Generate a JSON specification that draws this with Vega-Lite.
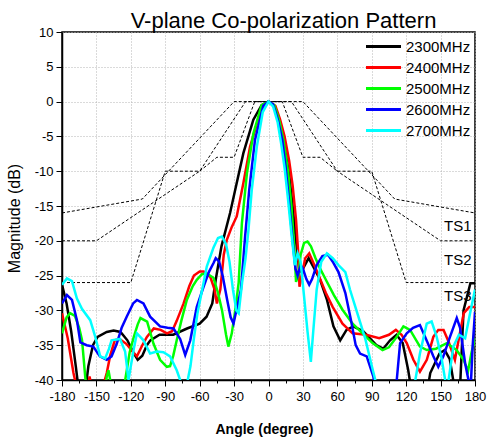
{
"$schema": "https://vega.github.io/schema/vega-lite/v6.json",
"width": 413, "height": 348,
"autosize": {"type": "none"},
"padding": {"left": 62, "top": 32, "right": 13, "bottom": 62},
"background": "white",
"title": {"text": "V-plane Co-polarization Pattern", "fontSize": 22, "font": "Liberation Sans", "fontWeight": "normal", "color": "black", "anchor": "middle", "dx": 15, "dy": 28, "offset": 4, "baseline": "alphabetic"},
"config": {
  "view": {"stroke": "black", "strokeWidth": 1.5},
  "axis": {"labelFont": "Liberation Sans", "labelFontSize": 13, "labelColor": "black", "titleFont": "Liberation Sans", "titleColor": "black", "domainColor": "black", "domainWidth": 1.5, "tickColor": "black", "tickWidth": 1, "gridColor": "#b4b4b4", "gridDash": [1, 2], "gridWidth": 1, "labelOverlap": false, "labelSeparation": 0}
},
"datasets": {
"curves": [
{"f":"2300MHz","a":-180,"m":-26.3},{"f":"2300MHz","a":-176,"m":-29},{"f":"2300MHz","a":-172,"m":-33},{"f":"2300MHz","a":-168,"m":-38},{"f":"2300MHz","a":-165,"m":-42},{"f":"2300MHz","a":-160,"m":-42},{"f":"2300MHz","a":-157,"m":-38},{"f":"2300MHz","a":-153,"m":-35},{"f":"2300MHz","a":-149,"m":-33.8},{"f":"2300MHz","a":-141,"m":-33.1},{"f":"2300MHz","a":-135,"m":-32.9},{"f":"2300MHz","a":-129,"m":-33.1},{"f":"2300MHz","a":-123,"m":-34.3},{"f":"2300MHz","a":-118,"m":-36},{"f":"2300MHz","a":-114,"m":-37.1},{"f":"2300MHz","a":-110,"m":-36.5},{"f":"2300MHz","a":-106,"m":-35},{"f":"2300MHz","a":-103,"m":-34.3},{"f":"2300MHz","a":-95,"m":-33.5},{"f":"2300MHz","a":-83,"m":-33.5},{"f":"2300MHz","a":-71,"m":-32.6},{"f":"2300MHz","a":-60,"m":-31.9},{"f":"2300MHz","a":-54,"m":-30.9},{"f":"2300MHz","a":-49,"m":-29},{"f":"2300MHz","a":-46,"m":-25.6},{"f":"2300MHz","a":-41,"m":-20.8},{"f":"2300MHz","a":-33.5,"m":-16},{"f":"2300MHz","a":-27.7,"m":-11.7},{"f":"2300MHz","a":-21.9,"m":-7.4},{"f":"2300MHz","a":-13.2,"m":-2.6},{"f":"2300MHz","a":-6,"m":-0.5},{"f":"2300MHz","a":0,"m":0},{"f":"2300MHz","a":6,"m":-0.8},{"f":"2300MHz","a":10,"m":-3.5},{"f":"2300MHz","a":14,"m":-6.5},{"f":"2300MHz","a":18,"m":-10.5},{"f":"2300MHz","a":21,"m":-15},{"f":"2300MHz","a":24,"m":-20},{"f":"2300MHz","a":27,"m":-24.5},{"f":"2300MHz","a":30,"m":-24},{"f":"2300MHz","a":35,"m":-22.5},{"f":"2300MHz","a":39,"m":-23.7},{"f":"2300MHz","a":45,"m":-25.6},{"f":"2300MHz","a":51,"m":-28.5},{"f":"2300MHz","a":56.6,"m":-32.3},{"f":"2300MHz","a":62.5,"m":-34.3},{"f":"2300MHz","a":68,"m":-32.8},{"f":"2300MHz","a":74,"m":-32.3},{"f":"2300MHz","a":82.6,"m":-33},{"f":"2300MHz","a":94,"m":-35},{"f":"2300MHz","a":100,"m":-35.5},{"f":"2300MHz","a":106,"m":-34.3},{"f":"2300MHz","a":111.6,"m":-33.5},{"f":"2300MHz","a":117,"m":-34.7},{"f":"2300MHz","a":121.8,"m":-38.6},{"f":"2300MHz","a":125,"m":-42},{"f":"2300MHz","a":138,"m":-42},{"f":"2300MHz","a":141,"m":-39},{"f":"2300MHz","a":149,"m":-36.2},{"f":"2300MHz","a":153.6,"m":-35.7},{"f":"2300MHz","a":158,"m":-37},{"f":"2300MHz","a":162,"m":-41},{"f":"2300MHz","a":167,"m":-41},{"f":"2300MHz","a":170,"m":-30},{"f":"2300MHz","a":176,"m":-26.1},{"f":"2300MHz","a":180,"m":-26.1},
{"f":"2400MHz","a":-180,"m":-30.4},{"f":"2400MHz","a":-175,"m":-34},{"f":"2400MHz","a":-170,"m":-39},{"f":"2400MHz","a":-166,"m":-42},{"f":"2400MHz","a":-158,"m":-42},{"f":"2400MHz","a":-156,"m":-39.5},{"f":"2400MHz","a":-154,"m":-41},{"f":"2400MHz","a":-146,"m":-42},{"f":"2400MHz","a":-141,"m":-39},{"f":"2400MHz","a":-138,"m":-36.5},{"f":"2400MHz","a":-134,"m":-34.3},{"f":"2400MHz","a":-130,"m":-34.1},{"f":"2400MHz","a":-124,"m":-34.8},{"f":"2400MHz","a":-119,"m":-35.8},{"f":"2400MHz","a":-114.7,"m":-36.6},{"f":"2400MHz","a":-110,"m":-35},{"f":"2400MHz","a":-106,"m":-33.8},{"f":"2400MHz","a":-100,"m":-32.6},{"f":"2400MHz","a":-94,"m":-32.8},{"f":"2400MHz","a":-88.5,"m":-33.3},{"f":"2400MHz","a":-84,"m":-33},{"f":"2400MHz","a":-80,"m":-31.5},{"f":"2400MHz","a":-74,"m":-29},{"f":"2400MHz","a":-69,"m":-26.5},{"f":"2400MHz","a":-65,"m":-25},{"f":"2400MHz","a":-60,"m":-24.4},{"f":"2400MHz","a":-56.5,"m":-24.4},{"f":"2400MHz","a":-50.7,"m":-25.2},{"f":"2400MHz","a":-47,"m":-27},{"f":"2400MHz","a":-45,"m":-29},{"f":"2400MHz","a":-42,"m":-27},{"f":"2400MHz","a":-39,"m":-22},{"f":"2400MHz","a":-36.4,"m":-19.9},{"f":"2400MHz","a":-32,"m":-18},{"f":"2400MHz","a":-27.7,"m":-16.5},{"f":"2400MHz","a":-21.9,"m":-11.7},{"f":"2400MHz","a":-16.1,"m":-6.5},{"f":"2400MHz","a":-7.4,"m":-1.7},{"f":"2400MHz","a":0,"m":0},{"f":"2400MHz","a":6,"m":-0.6},{"f":"2400MHz","a":10,"m":-2.5},{"f":"2400MHz","a":14,"m":-5},{"f":"2400MHz","a":18,"m":-8.5},{"f":"2400MHz","a":21,"m":-12},{"f":"2400MHz","a":24,"m":-17},{"f":"2400MHz","a":26,"m":-22},{"f":"2400MHz","a":27,"m":-26.6},{"f":"2400MHz","a":29,"m":-25},{"f":"2400MHz","a":32,"m":-22.5},{"f":"2400MHz","a":35.5,"m":-21.8},{"f":"2400MHz","a":40,"m":-23.5},{"f":"2400MHz","a":45,"m":-25.5},{"f":"2400MHz","a":50,"m":-27.5},{"f":"2400MHz","a":55.9,"m":-29.5},{"f":"2400MHz","a":64.5,"m":-31.9},{"f":"2400MHz","a":73.3,"m":-33.3},{"f":"2400MHz","a":85,"m":-33.5},{"f":"2400MHz","a":96.5,"m":-34},{"f":"2400MHz","a":105,"m":-33.5},{"f":"2400MHz","a":111,"m":-32.8},{"f":"2400MHz","a":116,"m":-33.5},{"f":"2400MHz","a":120.5,"m":-34.7},{"f":"2400MHz","a":126.3,"m":-37.1},{"f":"2400MHz","a":132,"m":-38.8},{"f":"2400MHz","a":138,"m":-37.1},{"f":"2400MHz","a":143.7,"m":-33.8},{"f":"2400MHz","a":148,"m":-32.8},{"f":"2400MHz","a":152.6,"m":-32.8},{"f":"2400MHz","a":157,"m":-34.5},{"f":"2400MHz","a":162.5,"m":-37.1},{"f":"2400MHz","a":166,"m":-34},{"f":"2400MHz","a":170.2,"m":-30.4},{"f":"2400MHz","a":175,"m":-29.5},{"f":"2400MHz","a":180,"m":-29.5},
{"f":"2500MHz","a":-180,"m":-33.3},{"f":"2500MHz","a":-176,"m":-31},{"f":"2500MHz","a":-173,"m":-30.4},{"f":"2500MHz","a":-168.7,"m":-30.8},{"f":"2500MHz","a":-165,"m":-32.5},{"f":"2500MHz","a":-162.5,"m":-34.3},{"f":"2500MHz","a":-159.5,"m":-40},{"f":"2500MHz","a":-157,"m":-42},{"f":"2500MHz","a":-143,"m":-42},{"f":"2500MHz","a":-141,"m":-39.5},{"f":"2500MHz","a":-139.5,"m":-38.6},{"f":"2500MHz","a":-138,"m":-40},{"f":"2500MHz","a":-136,"m":-42},{"f":"2500MHz","a":-126,"m":-42},{"f":"2500MHz","a":-124.9,"m":-40},{"f":"2500MHz","a":-121,"m":-36},{"f":"2500MHz","a":-117.4,"m":-33.8},{"f":"2500MHz","a":-114,"m":-32},{"f":"2500MHz","a":-111.6,"m":-31.1},{"f":"2500MHz","a":-105.8,"m":-31.6},{"f":"2500MHz","a":-100.2,"m":-34.8},{"f":"2500MHz","a":-94.5,"m":-37.1},{"f":"2500MHz","a":-88.7,"m":-38.1},{"f":"2500MHz","a":-85.8,"m":-38},{"f":"2500MHz","a":-83,"m":-36.5},{"f":"2500MHz","a":-80,"m":-34.3},{"f":"2500MHz","a":-76,"m":-31.5},{"f":"2500MHz","a":-71.2,"m":-28.5},{"f":"2500MHz","a":-66,"m":-26.5},{"f":"2500MHz","a":-62.5,"m":-25.6},{"f":"2500MHz","a":-58,"m":-24.8},{"f":"2500MHz","a":-53.8,"m":-24.7},{"f":"2500MHz","a":-48,"m":-25.3},{"f":"2500MHz","a":-44,"m":-27.5},{"f":"2500MHz","a":-40.5,"m":-30},{"f":"2500MHz","a":-37,"m":-33.5},{"f":"2500MHz","a":-35,"m":-35.2},{"f":"2500MHz","a":-32,"m":-33.3},{"f":"2500MHz","a":-29,"m":-30},{"f":"2500MHz","a":-26,"m":-26},{"f":"2500MHz","a":-23.2,"m":-17.5},{"f":"2500MHz","a":-18.8,"m":-10.3},{"f":"2500MHz","a":-13.2,"m":-4.6},{"f":"2500MHz","a":-6,"m":-0.5},{"f":"2500MHz","a":0,"m":0},{"f":"2500MHz","a":5,"m":-0.5},{"f":"2500MHz","a":9,"m":-2.5},{"f":"2500MHz","a":13,"m":-5.5},{"f":"2500MHz","a":17,"m":-10},{"f":"2500MHz","a":20,"m":-15},{"f":"2500MHz","a":22.5,"m":-21},{"f":"2500MHz","a":24,"m":-25.9},{"f":"2500MHz","a":26,"m":-25},{"f":"2500MHz","a":28,"m":-22},{"f":"2500MHz","a":31,"m":-20.3},{"f":"2500MHz","a":34,"m":-20.1},{"f":"2500MHz","a":37,"m":-20.8},{"f":"2500MHz","a":41,"m":-22.5},{"f":"2500MHz","a":45,"m":-24},{"f":"2500MHz","a":50,"m":-25.6},{"f":"2500MHz","a":57,"m":-27.8},{"f":"2500MHz","a":64.5,"m":-29.9},{"f":"2500MHz","a":73.3,"m":-31.9},{"f":"2500MHz","a":82,"m":-33.3},{"f":"2500MHz","a":90.7,"m":-34.7},{"f":"2500MHz","a":99.4,"m":-35.7},{"f":"2500MHz","a":105,"m":-35.3},{"f":"2500MHz","a":111.8,"m":-33.8},{"f":"2500MHz","a":117.6,"m":-32.3},{"f":"2500MHz","a":123.4,"m":-32.8},{"f":"2500MHz","a":132,"m":-35.2},{"f":"2500MHz","a":138,"m":-35.7},{"f":"2500MHz","a":146,"m":-35.5},{"f":"2500MHz","a":155.4,"m":-34.7},{"f":"2500MHz","a":164,"m":-35.7},{"f":"2500MHz","a":170,"m":-37.1},{"f":"2500MHz","a":174,"m":-38.7},{"f":"2500MHz","a":177,"m":-36},{"f":"2500MHz","a":180,"m":-34},
{"f":"2600MHz","a":-180,"m":-29},{"f":"2600MHz","a":-175.7,"m":-27.8},{"f":"2600MHz","a":-171.3,"m":-28.5},{"f":"2600MHz","a":-167,"m":-31.4},{"f":"2600MHz","a":-164,"m":-34.6},{"f":"2600MHz","a":-158.5,"m":-35},{"f":"2600MHz","a":-152.7,"m":-35.2},{"f":"2600MHz","a":-147,"m":-36.6},{"f":"2600MHz","a":-141,"m":-37.1},{"f":"2600MHz","a":-136.8,"m":-36.6},{"f":"2600MHz","a":-132.3,"m":-34.8},{"f":"2600MHz","a":-128,"m":-32.5},{"f":"2600MHz","a":-123.6,"m":-30.9},{"f":"2600MHz","a":-118,"m":-29},{"f":"2600MHz","a":-114.7,"m":-28.5},{"f":"2600MHz","a":-109,"m":-29},{"f":"2600MHz","a":-103.2,"m":-30.9},{"f":"2600MHz","a":-94.5,"m":-32.3},{"f":"2600MHz","a":-88,"m":-32.5},{"f":"2600MHz","a":-82.8,"m":-32.6},{"f":"2600MHz","a":-77,"m":-34.1},{"f":"2600MHz","a":-72.6,"m":-36.4},{"f":"2600MHz","a":-68.2,"m":-34.3},{"f":"2600MHz","a":-62.5,"m":-29.5},{"f":"2600MHz","a":-56.6,"m":-26.6},{"f":"2600MHz","a":-52,"m":-24.5},{"f":"2600MHz","a":-47.9,"m":-23.2},{"f":"2600MHz","a":-46,"m":-22.5},{"f":"2600MHz","a":-43,"m":-23},{"f":"2600MHz","a":-40,"m":-25},{"f":"2600MHz","a":-36,"m":-28.5},{"f":"2600MHz","a":-33,"m":-31},{"f":"2600MHz","a":-30.5,"m":-31.9},{"f":"2600MHz","a":-28,"m":-30},{"f":"2600MHz","a":-24,"m":-27},{"f":"2600MHz","a":-20.4,"m":-19.4},{"f":"2600MHz","a":-16.8,"m":-12.7},{"f":"2600MHz","a":-11.8,"m":-5.5},{"f":"2600MHz","a":-4.5,"m":-0.6},{"f":"2600MHz","a":0,"m":0},{"f":"2600MHz","a":4,"m":-0.4},{"f":"2600MHz","a":8,"m":-2.5},{"f":"2600MHz","a":12,"m":-5.5},{"f":"2600MHz","a":15,"m":-9.5},{"f":"2600MHz","a":18,"m":-14.5},{"f":"2600MHz","a":21,"m":-20},{"f":"2600MHz","a":23.5,"m":-24},{"f":"2600MHz","a":25.4,"m":-25},{"f":"2600MHz","a":28,"m":-23.5},{"f":"2600MHz","a":30,"m":-24},{"f":"2600MHz","a":33,"m":-25.5},{"f":"2600MHz","a":35.5,"m":-26.3},{"f":"2600MHz","a":38,"m":-25.5},{"f":"2600MHz","a":42,"m":-23.5},{"f":"2600MHz","a":47,"m":-22.2},{"f":"2600MHz","a":51.9,"m":-22},{"f":"2600MHz","a":56,"m":-23},{"f":"2600MHz","a":61,"m":-24.5},{"f":"2600MHz","a":67,"m":-27.5},{"f":"2600MHz","a":72,"m":-31.5},{"f":"2600MHz","a":76,"m":-35},{"f":"2600MHz","a":79.8,"m":-36.2},{"f":"2600MHz","a":85.6,"m":-36.6},{"f":"2600MHz","a":91.4,"m":-39.5},{"f":"2600MHz","a":94,"m":-42},{"f":"2600MHz","a":110,"m":-42},{"f":"2600MHz","a":111.8,"m":-40},{"f":"2600MHz","a":114.7,"m":-34.7},{"f":"2600MHz","a":120.5,"m":-33.3},{"f":"2600MHz","a":126,"m":-32.5},{"f":"2600MHz","a":132,"m":-32.1},{"f":"2600MHz","a":137,"m":-34},{"f":"2600MHz","a":143.7,"m":-36.6},{"f":"2600MHz","a":148,"m":-38.1},{"f":"2600MHz","a":152.4,"m":-36.6},{"f":"2600MHz","a":158.2,"m":-33.8},{"f":"2600MHz","a":164.1,"m":-31.1},{"f":"2600MHz","a":167,"m":-32.5},{"f":"2600MHz","a":171.4,"m":-37.6},{"f":"2600MHz","a":174.3,"m":-40},{"f":"2600MHz","a":176,"m":-42},{"f":"2600MHz","a":178,"m":-35},{"f":"2600MHz","a":180,"m":-30.2},
{"f":"2700MHz","a":-180,"m":-26.3},{"f":"2700MHz","a":-175.7,"m":-25.4},{"f":"2700MHz","a":-171.3,"m":-25.8},{"f":"2700MHz","a":-167,"m":-28.3},{"f":"2700MHz","a":-162.5,"m":-29.8},{"f":"2700MHz","a":-155.4,"m":-31.4},{"f":"2700MHz","a":-151,"m":-33.8},{"f":"2700MHz","a":-146.7,"m":-36.6},{"f":"2700MHz","a":-142.4,"m":-36.9},{"f":"2700MHz","a":-139,"m":-35.5},{"f":"2700MHz","a":-136.8,"m":-34.3},{"f":"2700MHz","a":-129.4,"m":-34.1},{"f":"2700MHz","a":-125,"m":-35.9},{"f":"2700MHz","a":-122,"m":-40},{"f":"2700MHz","a":-120,"m":-38},{"f":"2700MHz","a":-117.4,"m":-35.5},{"f":"2700MHz","a":-114.7,"m":-33.3},{"f":"2700MHz","a":-109,"m":-34.3},{"f":"2700MHz","a":-103.2,"m":-36.2},{"f":"2700MHz","a":-97.4,"m":-35.9},{"f":"2700MHz","a":-91.6,"m":-36},{"f":"2700MHz","a":-85.8,"m":-36.6},{"f":"2700MHz","a":-80,"m":-38.6},{"f":"2700MHz","a":-77,"m":-40},{"f":"2700MHz","a":-75,"m":-42},{"f":"2700MHz","a":-71,"m":-40.5},{"f":"2700MHz","a":-68,"m":-38},{"f":"2700MHz","a":-65,"m":-34},{"f":"2700MHz","a":-62,"m":-30.5},{"f":"2700MHz","a":-59.6,"m":-28.5},{"f":"2700MHz","a":-53.8,"m":-23.7},{"f":"2700MHz","a":-48,"m":-21},{"f":"2700MHz","a":-44,"m":-19.6},{"f":"2700MHz","a":-40.6,"m":-19.4},{"f":"2700MHz","a":-37,"m":-20.5},{"f":"2700MHz","a":-34,"m":-23},{"f":"2700MHz","a":-31,"m":-27},{"f":"2700MHz","a":-28,"m":-30},{"f":"2700MHz","a":-26,"m":-30.4},{"f":"2700MHz","a":-23,"m":-26},{"f":"2700MHz","a":-20,"m":-22.5},{"f":"2700MHz","a":-17.5,"m":-18.5},{"f":"2700MHz","a":-14.6,"m":-12.7},{"f":"2700MHz","a":-10.2,"m":-6.5},{"f":"2700MHz","a":-5,"m":-1.5},{"f":"2700MHz","a":0,"m":0},{"f":"2700MHz","a":4,"m":-0.7},{"f":"2700MHz","a":8,"m":-3},{"f":"2700MHz","a":11,"m":-6},{"f":"2700MHz","a":14,"m":-9.5},{"f":"2700MHz","a":17,"m":-14},{"f":"2700MHz","a":20,"m":-19},{"f":"2700MHz","a":23,"m":-23.5},{"f":"2700MHz","a":25.4,"m":-21.8},{"f":"2700MHz","a":28,"m":-23},{"f":"2700MHz","a":31,"m":-28},{"f":"2700MHz","a":34,"m":-33},{"f":"2700MHz","a":36.9,"m":-37.4},{"f":"2700MHz","a":39,"m":-33},{"f":"2700MHz","a":42,"m":-27},{"f":"2700MHz","a":46,"m":-23},{"f":"2700MHz","a":50.9,"m":-21.8},{"f":"2700MHz","a":56,"m":-22.5},{"f":"2700MHz","a":61,"m":-23.5},{"f":"2700MHz","a":67,"m":-24.5},{"f":"2700MHz","a":71,"m":-27},{"f":"2700MHz","a":75.7,"m":-29.5},{"f":"2700MHz","a":84.4,"m":-34.1},{"f":"2700MHz","a":90.2,"m":-38.1},{"f":"2700MHz","a":93.1,"m":-40},{"f":"2700MHz","a":95,"m":-42},{"f":"2700MHz","a":126,"m":-42},{"f":"2700MHz","a":128,"m":-40},{"f":"2700MHz","a":132,"m":-36.2},{"f":"2700MHz","a":137.9,"m":-31.9},{"f":"2700MHz","a":142.2,"m":-31.6},{"f":"2700MHz","a":146.6,"m":-33.8},{"f":"2700MHz","a":151,"m":-37},{"f":"2700MHz","a":154,"m":-40},{"f":"2700MHz","a":155.5,"m":-42},{"f":"2700MHz","a":157,"m":-40},{"f":"2700MHz","a":161.1,"m":-35.2},{"f":"2700MHz","a":166,"m":-33.5},{"f":"2700MHz","a":171.4,"m":-34},{"f":"2700MHz","a":175.7,"m":-30.4},{"f":"2700MHz","a":180,"m":-27}
],
"ts": [
{"t":"TS1","a":-180,"m":-16},{"t":"TS1","a":-110,"m":-14},{"t":"TS1","a":-30,"m":0},{"t":"TS1","a":30,"m":0},{"t":"TS1","a":110,"m":-14},{"t":"TS1","a":180,"m":-16},
{"t":"TS2","a":-180,"m":-20},{"t":"TS2","a":-150,"m":-20},{"t":"TS2","a":-60,"m":-10},{"t":"TS2","a":-20,"m":0},{"t":"TS2","a":20,"m":0},{"t":"TS2","a":60,"m":-10},{"t":"TS2","a":150,"m":-20},{"t":"TS2","a":180,"m":-20},
{"t":"TS3","a":-180,"m":-26},{"t":"TS3","a":-120,"m":-26},{"t":"TS3","a":-90,"m":-10},{"t":"TS3","a":-60,"m":-10},{"t":"TS3","a":-45,"m":-8},{"t":"TS3","a":-30,"m":-8},{"t":"TS3","a":-12,"m":0},{"t":"TS3","a":12,"m":0},{"t":"TS3","a":30,"m":-8},{"t":"TS3","a":45,"m":-8},{"t":"TS3","a":60,"m":-10},{"t":"TS3","a":90,"m":-10},{"t":"TS3","a":120,"m":-26},{"t":"TS3","a":180,"m":-26}
],
"tslab": [
{"label":"TS1","a":177,"m":-17.9},{"label":"TS2","a":177,"m":-22.8},{"label":"TS3","a":177,"m":-28}
]
},
"encoding": {
  "x": {"field": "a", "type": "quantitative", "scale": {"domain": [-180, 180], "nice": false, "zero": false},
    "axis": {"values": [-180,-165,-150,-135,-120,-105,-90,-75,-60,-45,-30,-15,0,15,30,45,60,75,90,105,120,135,150,165,180],
      "labelExpr": "abs(datum.value) % 30 < 1 ? '' + datum.value : ''",
      "tickSize": {"condition": {"test": "abs(datum.value) % 30 < 1", "value": 6}, "value": 3},
      "gridOpacity": {"condition": {"test": "abs(datum.value) % 30 < 1", "value": 1}, "value": 0},
      "labelPadding": 4, "labelFlush": false, "labelOverlap": false, "labelBound": false, "labelSeparation": 0,
      "title": "Angle (degree)", "titleFontSize": 14, "titleFontWeight": "bold", "titleX": 202, "titleY": 53, "titleBaseline": "alphabetic", "titleAlign": "center"}},
  "y": {"field": "m", "type": "quantitative", "scale": {"domain": [-40, 10], "nice": false, "zero": false},
    "axis": {"values": [-40,-35,-30,-25,-20,-15,-10,-5,0,5,10], "labelExpr": "'' + datum.value", "tickSize": 6, "labelPadding": 3, "labelOverlap": false,
      "title": "Magnitude (dB)", "titleFontSize": 16, "titleFontWeight": "normal", "titleX": -43, "titleY": 186, "titleAngle": -90, "titleAlign": "center", "titleBaseline": "alphabetic"}}
},
"layer": [
{
  "data": {"name": "ts"},
  "mark": {"type": "line", "color": "black", "strokeWidth": 1, "strokeDash": [3, 2], "clip": true},
  "encoding": {"detail": {"field": "t"}}
},
{
  "data": {"name": "curves"},
  "mark": {"type": "line", "strokeWidth": 2.5, "clip": true},
  "encoding": {
    "color": {"field": "f", "type": "nominal",
      "scale": {"domain": ["2300MHz","2400MHz","2500MHz","2600MHz","2700MHz"], "range": ["#000000","#ff0000","#00ff00","#0000ff","#00ffff"]},
      "legend": {"title": null, "orient": "none", "legendX": 313, "legendY": 6, "padding": 0, "symbolType": "M-2.5,0H2.5", "symbolSize": 196, "symbolStrokeWidth": 3, "labelFont": "Liberation Sans", "labelFontSize": 15, "labelColor": "black", "labelOffset": 14, "rowPadding": 4}}
  }
},
{
  "data": {"name": "tslab"},
  "mark": {"type": "text", "align": "right", "baseline": "middle", "font": "Liberation Sans", "fontSize": 15, "color": "black"},
  "encoding": {"text": {"field": "label"}}
}
]
}
